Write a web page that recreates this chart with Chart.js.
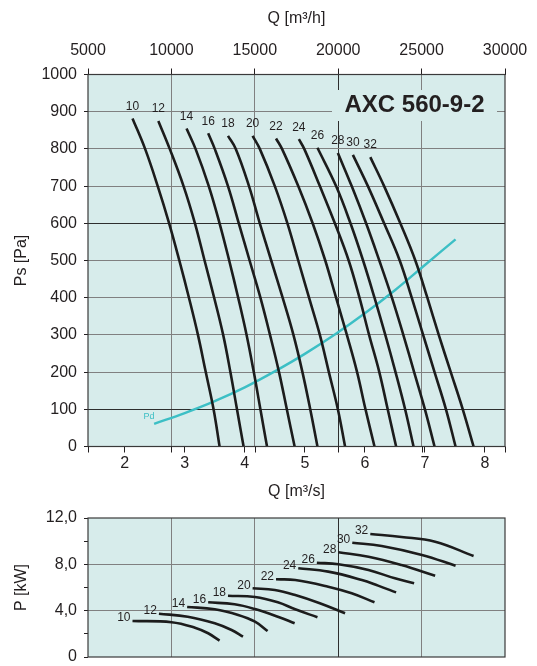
<!DOCTYPE html>
<html><head><meta charset="utf-8">
<script src="https://cdn.jsdelivr.net/npm/chart.js@4.4.1/dist/chart.umd.min.js"></script>
<style>
html,body{margin:0;padding:0;background:#fff;}
#wrap{position:relative;width:537px;height:666px;overflow:hidden;background:#fff;}
canvas{position:absolute;left:0;}
#c1{top:0;width:537px;height:507px;}
#c2{top:507px;width:537px;height:159px;}
</style></head><body>
<div id="wrap"><canvas id="c1" width="537" height="507"></canvas><canvas id="c2" width="537" height="159"></canvas></div>
<script>
// ---------- data (Q in m³/s, Ps in Pa, P in kW) ----------
const bladeAngles = ['10','12','14','16','18','20','22','24','26','28','30','32'];
const ps10 = [[2.13,882],[2.34,800],[2.55,700],[2.74,600],[2.91,500],[3.07,400],[3.22,300],[3.35,200],[3.48,100],[3.58,0]];
const ps12 = [[2.56,875],[2.75,800],[2.98,700],[3.17,600],[3.33,500],[3.49,400],[3.64,300],[3.76,200],[3.87,100],[3.98,0]];
const ps14 = [[3.03,855],[3.18,800],[3.40,700],[3.58,600],[3.74,500],[3.89,400],[4.03,300],[4.15,200],[4.26,100],[4.37,0]];
const ps16 = [[3.39,842],[3.50,800],[3.72,700],[3.90,600],[4.08,500],[4.26,400],[4.42,300],[4.57,200],[4.70,100],[4.83,0]];
const ps18 = [[3.72,835],[3.85,800],[4.07,700],[4.25,600],[4.44,500],[4.63,400],[4.81,300],[4.96,200],[5.09,100],[5.21,0]];
const ps20 = [[4.13,835],[4.25,800],[4.50,700],[4.71,600],[4.89,500],[5.07,400],[5.25,300],[5.40,200],[5.55,100],[5.67,0]];
const ps22 = [[4.52,828],[4.62,800],[4.89,700],[5.13,600],[5.34,500],[5.52,400],[5.70,300],[5.87,200],[6.01,100],[6.16,0]];
const ps24 = [[4.90,826],[4.99,800],[5.25,700],[5.50,600],[5.73,500],[5.91,400],[6.07,300],[6.24,200],[6.38,100],[6.52,0]];
const ps26 = [[5.21,803],[5.52,700],[5.76,600],[5.97,500],[6.16,400],[6.34,300],[6.51,200],[6.67,100],[6.81,0]];
const ps28 = [[5.55,789],[5.78,700],[6.02,600],[6.24,500],[6.45,400],[6.64,300],[6.82,200],[7.00,100],[7.16,0]];
const ps30 = [[5.80,784],[6.05,700],[6.32,600],[6.58,500],[6.78,400],[6.97,300],[7.16,200],[7.35,100],[7.51,0]];
const ps32 = [[6.09,778],[6.32,700],[6.59,600],[6.84,500],[7.04,400],[7.23,300],[7.43,200],[7.63,100],[7.81,0]];
const pdCurve = [[2.49,61],[3.0,90],[3.5,122],[4.0,159],[4.5,202],[5.0,249],[5.5,301],[6.0,358],[6.5,420],[7.0,488],[7.51,557]];

const pw10 = [[2.13,3.11],[2.78,3.00],[3.17,2.53],[3.39,2.05],[3.58,1.41]];
const pw12 = [[2.57,3.74],[3.05,3.48],[3.50,2.91],[3.78,2.33],[3.97,1.75]];
const pw14 = [[3.04,4.32],[3.50,4.12],[3.89,3.63],[4.17,3.05],[4.38,2.24]];
const pw16 = [[3.39,4.72],[3.83,4.55],[4.17,4.14],[4.55,3.48],[4.83,2.91]];
const pw18 = [[3.72,5.29],[4.17,5.18],[4.55,4.72],[4.84,4.12],[5.21,3.43]];
const pw20 = [[4.13,5.93],[4.50,5.78],[4.84,5.35],[5.25,4.64],[5.67,3.77]];
const pw22 = [[4.52,6.71],[4.84,6.65],[5.39,6.07],[5.78,5.50],[6.16,4.72]];
const pw24 = [[4.89,7.66],[5.39,7.37],[5.95,6.65],[6.22,6.16],[6.52,5.58]];
const pw26 = [[5.20,8.14],[5.56,8.00],[6.06,7.51],[6.50,6.79],[6.82,6.36]];
const pw28 = [[5.56,9.04],[6.06,8.66],[6.61,7.94],[7.17,7.02]];
const pw30 = [[5.79,9.87],[6.28,9.58],[6.95,8.81],[7.51,7.88]];
const pw32 = [[6.09,10.62],[6.61,10.36],[7.17,9.95],[7.81,8.72]];

const qhTicks = [5000,10000,15000,20000,25000,30000];
const qsTicks = [2,3,4,5,6,7,8];
const pTicks = [0,2,4,6,8,10,12];
const modelName = 'AXC 560-9-2';

const psCurves = [ps10,ps12,ps14,ps16,ps18,ps20,ps22,ps24,ps26,ps28,ps30,ps32];
const pwCurves = [pw10,pw12,pw14,pw16,pw18,pw20,pw22,pw24,pw26,pw28,pw30,pw32];

// ---------- styling ----------
const FONT = "'Liberation Sans', Arial, Helvetica, sans-serif";
const BG = '#d7eceb', INK = '#231f20', GRID = '#808080', GRID_DARK = '#2e2e2e', CYAN = '#3cbfc5';
const TRANSP = 'rgba(0,0,0,0)';
Chart.defaults.font.family = FONT;
Chart.defaults.color = INK;

const qMinH = qhTicks[0], qMaxH = qhTicks[qhTicks.length-1];
const qMinS = qMinH/3600, qMaxS = qMaxH/3600;

const toXY = arr => arr.map(p => ({x:p[0], y:p[1]}));

const frame = {
  id:'frame',
  beforeDraw(chart){
    const {ctx, chartArea:a} = chart;
    ctx.save(); ctx.fillStyle = BG;
    ctx.fillRect(a.left, a.top, a.right-a.left, a.bottom-a.top);
    ctx.restore();
  },
  afterDraw(chart, args, opts){
    const {ctx, chartArea:a} = chart;
    ctx.save();
    ctx.strokeStyle = '#3a3a3a'; ctx.lineWidth = 1.2;
    ctx.strokeRect(a.left, a.top, a.right-a.left, a.bottom-a.top);
    if (opts && opts.bottomTicks) {
      const xh = chart.scales.xh;
      ctx.strokeStyle = INK; ctx.lineWidth = 1;
      xh.ticks.forEach(t => {
        const x = Math.round(xh.getPixelForValue(t.value)) + 0.5;
        ctx.beginPath(); ctx.moveTo(x, a.bottom); ctx.lineTo(x, a.bottom+6); ctx.stroke();
      });
    }
    ctx.restore();
  }
};

const curveLabels = {
  id:'curveLabels',
  afterDatasetsDraw(chart, args, opts){
    const ctx = chart.ctx; ctx.save();
    chart.data.datasets.forEach((ds,i) => {
      const p = chart.getDatasetMeta(i).data[0];
      if (!p) return;
      ctx.textBaseline = 'middle';
      if (ds.label === 'Pd') {
        ctx.font = '9px ' + FONT; ctx.fillStyle = CYAN; ctx.textAlign = 'center';
        ctx.fillText('Pd', p.x-5, p.y-7);
        return;
      }
      ctx.font = '12px ' + FONT; ctx.fillStyle = INK;
      if (opts.mode === 'above') { ctx.textAlign = 'center'; ctx.fillText(ds.label, p.x, p.y-12); }
      else { ctx.textAlign = 'right'; ctx.fillText(ds.label, p.x-2, p.y-3); }
    });
    ctx.restore();
  }
};

const modelBox = {
  id:'modelBox',
  beforeDatasetsDraw(chart){
    const {ctx, chartArea:a} = chart;
    const x0 = a.left+244, x1 = a.left+409, y0 = a.top+15.5, y1 = a.top+46.5;
    ctx.save();
    ctx.fillStyle = BG; ctx.fillRect(x0, y0, x1-x0, y1-y0);
    ctx.font = 'bold 24px ' + FONT; ctx.fillStyle = INK;
    ctx.textAlign = 'center'; ctx.textBaseline = 'middle';
    ctx.fillText(modelName, (x0+x1)/2, (y0+y1)/2);
    ctx.restore();
  }
};

const gridColorH = c => {
  const v = c.tick ? c.tick.value : null;
  if (v === qMinH || v === qMaxH) return TRANSP;
  return v === 20000 ? GRID_DARK : GRID;
};

// ---------- top chart: static pressure ----------
const topDatasets = psCurves.map((c,i) => ({
  label: bladeAngles[i], data: toXY(c), showLine: true, pointRadius: 0,
  borderColor: '#1c1c1c', borderWidth: 2.6, tension: 0.4, xAxisID:'x', yAxisID:'y'
}));
topDatasets.push({label:'Pd', data: toXY(pdCurve), showLine:true, pointRadius:0,
  borderColor: CYAN, borderWidth: 2.4, tension: 0.4, xAxisID:'x', yAxisID:'y'});

new Chart(document.getElementById('c1'), {
  type: 'scatter',
  data: { datasets: topDatasets },
  options: {
    responsive:false, animation:false, events:[],
    layout:{ padding:{ left:0, right:32, top:0, bottom:0 } },
    plugins:{ legend:{display:false}, tooltip:{enabled:false}, frame:{bottomTicks:true}, curveLabels:{mode:'above'} },
    scales:{
      x:{ type:'linear', position:'bottom', min:qMinS, max:qMaxS,
          afterBuildTicks: s => { s.ticks = qsTicks.map(v => ({value:v})); },
          ticks:{ font:{size:16}, color:INK, padding:1, autoSkip:false, maxRotation:0, callback: v => String(v) },
          grid:{ drawOnChartArea:false, tickLength:6, tickColor:INK },
          border:{ display:false },
          title:{ display:true, text:'Q [m³/s]', font:{size:16}, color:INK, padding:{top:0,bottom:6} },
          afterFit: s => { s.height = 60.5; } },
      xh:{ type:'linear', position:'top', min:qMinH, max:qMaxH,
          afterBuildTicks: s => { s.ticks = qhTicks.map(v => ({value:v})); },
          ticks:{ font:{size:16}, color:INK, padding:8, autoSkip:false, maxRotation:0, callback: v => String(v) },
          grid:{ color: gridColorH, tickColor: INK, tickLength:6, lineWidth:1 },
          border:{ display:false },
          title:{ display:true, text:'Q [m³/h]', font:{size:16}, color:INK, padding:{top:9,bottom:0} },
          afterFit: s => { s.height = 74.5; } },
      y:{ type:'linear', position:'left', min:0, max:1000,
          ticks:{ stepSize:100, font:{size:16}, color:INK, padding:7, autoSkip:false, callback: v => String(v) },
          grid:{ color: c => { const v = c.tick.value; if (v===0||v===1000) return TRANSP; return (v===100||v===600) ? GRID_DARK : GRID; },
                 tickColor: INK, tickLength:4, lineWidth:1 },
          border:{ display:false },
          title:{ display:true, text:'Ps [Pa]', font:{size:16}, color:INK, padding:{top:12,bottom:0} },
          afterFit: s => { s.width = 88; s.paddingTop = 0; s.paddingBottom = 0; } }
    }
  },
  plugins:[frame, modelBox, curveLabels]
});

// ---------- bottom chart: shaft power ----------
const botDatasets = pwCurves.map((c,i) => ({
  label: bladeAngles[i], data: toXY(c), showLine: true, pointRadius: 0,
  borderColor: '#1c1c1c', borderWidth: 2.6, tension: 0.4, xAxisID:'x', yAxisID:'y'
}));

new Chart(document.getElementById('c2'), {
  type: 'scatter',
  data: { datasets: botDatasets },
  options: {
    responsive:false, animation:false, events:[],
    layout:{ padding:{ left:0, right:32, top:11, bottom:9 } },
    plugins:{ legend:{display:false}, tooltip:{enabled:false}, frame:{bottomTicks:false}, curveLabels:{mode:'left'} },
    scales:{
      x:{ type:'linear', display:false, min:qMinS, max:qMaxS },
      xh:{ type:'linear', position:'bottom', min:qMinH, max:qMaxH,
          afterBuildTicks: s => { s.ticks = qhTicks.map(v => ({value:v})); },
          ticks:{ display:false },
          grid:{ color: gridColorH, drawTicks:false, tickLength:0, lineWidth:1 },
          border:{ display:false },
          afterFit: s => { s.height = 0; s.paddingLeft = 0; s.paddingRight = 0; } },
      y:{ type:'linear', position:'left', min:0, max:12,
          afterBuildTicks: s => { s.ticks = pTicks.map(v => ({value:v})); },
          ticks:{ font:{size:16}, color:INK, padding:7, autoSkip:false,
                  callback: v => (v % 4 === 0) ? (v === 0 ? '0' : v.toFixed(1).replace('.', ',')) : '' },
          grid:{ color: c => (c.tick.value===4||c.tick.value===8) ? GRID : TRANSP, tickColor: INK, tickLength:4, lineWidth:1 },
          border:{ display:false },
          title:{ display:true, text:'P [kW]', font:{size:16}, color:INK, padding:{top:12,bottom:0} },
          afterFit: s => { s.width = 88; s.paddingTop = 0; s.paddingBottom = 0; } }
    }
  },
  plugins:[frame, curveLabels]
});
</script>
</body></html>
